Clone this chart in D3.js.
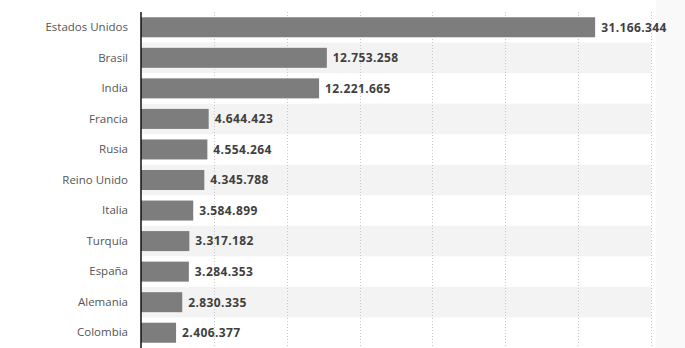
<!DOCTYPE html>
<html><head><meta charset="utf-8">
<script src="https://cdn.jsdelivr.net/npm/d3@7"></script>
<style>body{margin:0;background:#fff}svg{display:block}</style>
</head><body>
<script>
const categories = ["Estados Unidos","Brasil","India","Francia","Rusia","Reino Unido","Italia","Turquía","España","Alemania","Colombia"];
const values = [31166344,12753258,12221665,4644423,4554264,4345788,3584899,3317182,3284353,2830335,2406377];
const ticks = [0,5000000,10000000,15000000,20000000,25000000,30000000,35000000];

const W=685,H=348;
const svg=d3.select("body").append("svg").attr("width",W).attr("height",H);
const x=d3.scaleLinear().domain([0,35000000]).range([141,651]);
const y=d3.scaleBand().domain(categories).range([12,348]).padding(0);

// right edge shading
svg.append("rect").attr("x",656).attr("y",0).attr("width",29).attr("height",H).attr("fill","#f9f9f9");

// alternating bands
svg.selectAll("rect.band").data(categories.filter((d,i)=>i%2===1)).enter().append("rect")
  .attr("x",x(0)).attr("y",d=>y(d)).attr("width",x(35000000)-x(0)).attr("height",y.bandwidth())
  .attr("fill","#f3f3f3");

// gridlines
svg.selectAll("line.grid").data(ticks.slice(1)).enter().append("line")
  .attr("x1",d=>Math.round(x(d))+0.5).attr("x2",d=>Math.round(x(d))+0.5)
  .attr("y1",12).attr("y2",H).attr("stroke","#c8c8c8").attr("stroke-dasharray","1,2");

const bh=20;
svg.selectAll("rect.bar").data(values).enter().append("rect")
  .attr("x",x(0)).attr("y",(d,i)=>y(categories[i])+(y.bandwidth()-bh)/2)
  .attr("width",d=>x(d)-x(0)).attr("height",bh).attr("fill","#7d7d7d");

const fmt=v=>d3.format(",")(v).replace(/,/g,".");
svg.selectAll("text.val").data(values).enter().append("text")
  .attr("x",d=>x(d)+6).attr("y",(d,i)=>y(categories[i])+y.bandwidth()/2)
  .attr("dy","0.36em").attr("font-family","Open Sans").attr("font-weight","bold")
  .attr("font-size","12px").attr("letter-spacing","0.4px").attr("fill","#3f3f3f").text(fmt);

// axis
const ax=svg.append("g").attr("transform","translate(141,0)").call(d3.axisLeft(y).tickSize(0).tickPadding(13));
ax.select(".domain").attr("stroke","#111").attr("stroke-width",1.5).attr("d","M0,12V348");
ax.selectAll("text").attr("font-family","Open Sans").attr("font-size","11.5px").attr("fill","#555");
</script>
</body></html>
